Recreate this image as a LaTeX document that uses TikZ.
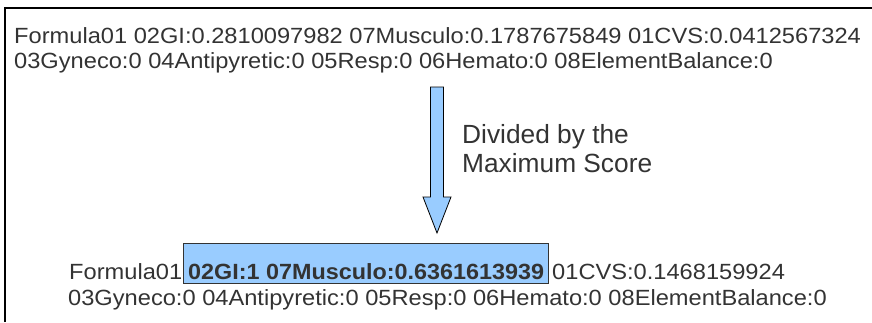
\documentclass[tikz,border=0pt]{standalone}
\usepackage{fontspec}
\setmainfont{Liberation Sans}
\newfontfamily\wide[FakeStretch=1.075]{Liberation Sans}
\newfontfamily\wideb[FakeStretch=1.062]{Liberation Sans}
\definecolor{txtgray}{HTML}{333333}
\definecolor{hlblue}{HTML}{99CCFF}
\tikzset{
  txt/.style={anchor=base west, inner sep=0pt, text=txtgray, font=\wide\fontsize{22}{26}\selectfont},
  lbl/.style={anchor=base west, inner sep=0pt, text=txtgray, font=\fontsize{26.3}{30}\selectfont, align=left},
  hlbox/.style={draw=txtgray, fill=hlblue, line width=0.8pt, minimum width=365pt, minimum height=40pt, anchor=north west, inner sep=0pt},
  blockarrow/.style={draw=black, fill=hlblue, line width=0.8pt, line join=miter},
  frame/.style={draw=black, line width=2pt}
}
\begin{document}
\begin{tikzpicture}[x=1pt,y=-1pt]
\useasboundingbox (0,0) rectangle (872,322);
\draw[frame] (4.5,322) -- (4.5,8) -- (872,8);
\node[txt] (t1) at (14,43) {Formula01 02GI:0.2810097982 07Musculo:0.1787675849 01CVS:0.0412567324};
\node[txt] (t2) at (14,68) {03Gyneco:0 04Antipyretic:0 05Resp:0 06Hemato:0 08ElementBalance:0};
\draw[blockarrow] (430.5,87) -- (443.5,87) -- (443.5,197) -- (451,197) -- (437,233) -- (423,197) -- (430.5,197) -- cycle;
\node[lbl] (l1) at (462,143) {Divided by the};
\node[lbl] (l2) at (462,172) {Maximum Score};
\node[hlbox] (hl) at (183,243) {};
\node[txt] (b1) at (69,279) {Formula01};
\node[txt, font=\wideb\fontsize{22}{26}\selectfont\bfseries] (b2) at (188,279) {02GI:1 07Musculo:0.6361613939};
\node[txt] (b3) at (552,279) {01CVS:0.1468159924};
\node[txt] (b4) at (68,305) {03Gyneco:0 04Antipyretic:0 05Resp:0 06Hemato:0 08ElementBalance:0};
\end{tikzpicture}
\end{document}
